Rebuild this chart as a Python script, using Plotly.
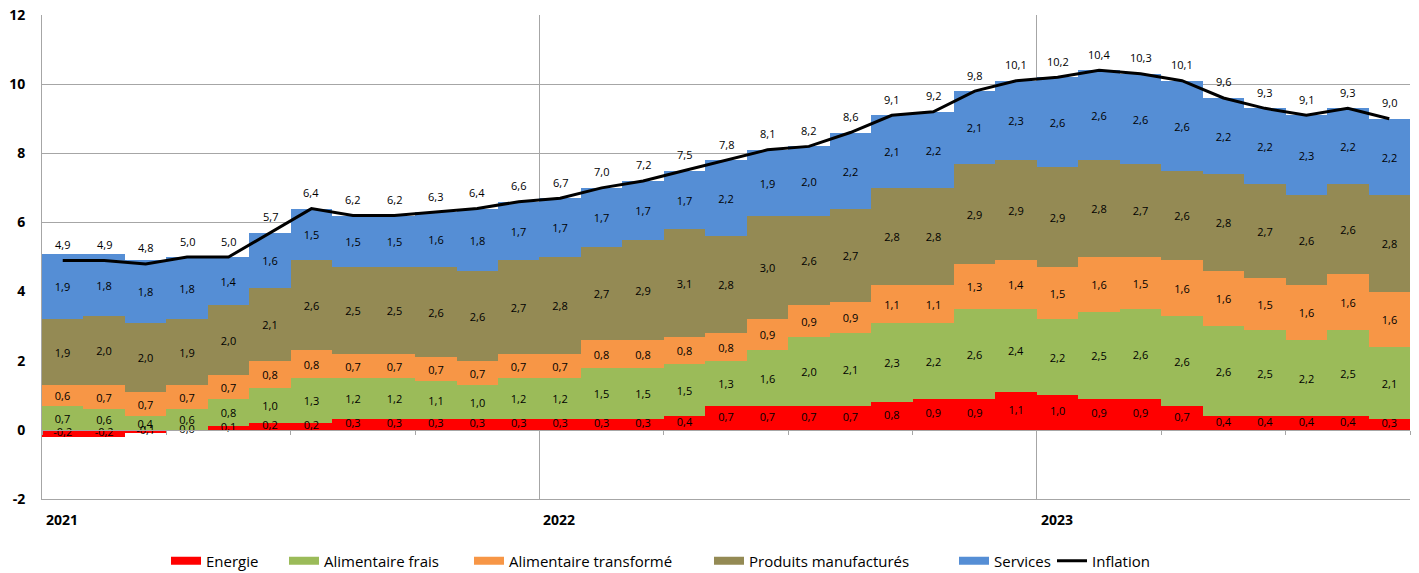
import plotly.graph_objects as go
import numpy as np

months = ["2021-01","2021-02","2021-03","2021-04","2021-05","2021-06","2021-07","2021-08","2021-09","2021-10","2021-11","2021-12",
          "2022-01","2022-02","2022-03","2022-04","2022-05","2022-06","2022-07","2022-08","2022-09","2022-10","2022-11","2022-12",
          "2023-01","2023-02","2023-03","2023-04","2023-05","2023-06","2023-07","2023-08","2023-09"]

energie = [-0.2,-0.2,-0.1,0.0,0.1,0.2,0.2,0.3,0.3,0.3,0.3,0.3,
           0.3,0.3,0.3,0.4,0.7,0.7,0.7,0.7,0.8,0.9,0.9,1.1,
           1.0,0.9,0.9,0.7,0.4,0.4,0.4,0.4,0.3]
alim_frais = [0.7,0.6,0.4,0.6,0.8,1.0,1.3,1.2,1.2,1.1,1.0,1.2,
              1.2,1.5,1.5,1.5,1.3,1.6,2.0,2.1,2.3,2.2,2.6,2.4,
              2.2,2.5,2.6,2.6,2.6,2.5,2.2,2.5,2.1]
alim_transf = [0.6,0.7,0.7,0.7,0.7,0.8,0.8,0.7,0.7,0.7,0.7,0.7,
               0.7,0.8,0.8,0.8,0.8,0.9,0.9,0.9,1.1,1.1,1.3,1.4,
               1.5,1.6,1.5,1.6,1.6,1.5,1.6,1.6,1.6]
manufactures = [1.9,2.0,2.0,1.9,2.0,2.1,2.6,2.5,2.5,2.6,2.6,2.7,
                2.8,2.7,2.9,3.1,2.8,3.0,2.6,2.7,2.8,2.8,2.9,2.9,
                2.9,2.8,2.7,2.6,2.8,2.7,2.6,2.6,2.8]
services = [1.9,1.8,1.8,1.8,1.4,1.6,1.5,1.5,1.5,1.6,1.8,1.7,
            1.7,1.7,1.7,1.7,2.2,1.9,2.0,2.2,2.1,2.2,2.1,2.3,
            2.6,2.6,2.6,2.6,2.2,2.2,2.3,2.2,2.2]
inflation = [4.9,4.9,4.8,5.0,5.0,5.7,6.4,6.2,6.2,6.3,6.4,6.6,
             6.7,7.0,7.2,7.5,7.8,8.1,8.2,8.6,9.1,9.2,9.8,10.1,
             10.2,10.4,10.3,10.1,9.6,9.3,9.1,9.3,9.0]
year_labels = ["2021", "2022", "2023"]

n = len(months)
x = np.arange(n) + 0.5
year_pos = [0, 12, 24]

FONT = "Open Sans"
LBL = 11
W, H = 1419, 573
series = [
    ("Energie", energie, "#FF0000"),
    ("Alimentaire frais", alim_frais, "#9BBB59"),
    ("Alimentaire transformé", alim_transf, "#F79646"),
    ("Produits manufacturés", manufactures, "#948A54"),
    ("Services", services, "#558ED5"),
]
# legend item left edges (px)
legend_left = [172, 290, 475, 715, 960, 1058]

def fmt(v):
    return f"{v:.1f}".replace(".", ",")

fig = go.Figure()
for name, vals, col in series:
    is_en = name == "Energie"
    fig.add_trace(go.Bar(
        x=x, y=vals, name=name, width=1.0, showlegend=False,
        marker=dict(color=col, line=dict(width=0)),
        texttemplate=None if is_en else "%{y:.1f}",
        textposition="none" if is_en else "inside", insidetextanchor="middle",
        textangle=0, constraintext="none",
        textfont=dict(family=FONT, size=LBL, color="black"),
    ))

# Energie labels (also shown for zero-height bars)
fig.add_trace(go.Scatter(
    x=x, y=[v / 2 for v in energie], mode="text", showlegend=False,
    text=[fmt(v) for v in energie], textposition="middle center",
    textfont=dict(family=FONT, size=LBL, color="black"), cliponaxis=False,
))

fig.add_trace(go.Scatter(
    x=x, y=inflation, name="Inflation", mode="lines", showlegend=False,
    line=dict(color="black", width=3), xaxis="x2",
))

for xi, v in zip(x, inflation):
    fig.add_annotation(x=xi, y=v, xref="x", yref="y", text=fmt(v), showarrow=False,
                       yanchor="middle", yshift=16,
                       font=dict(family=FONT, size=LBL, color="black"))

# legend entries, each in its own legend so it can be placed like the reference
legend_layouts = {}
entries = [(name, col, 8) for name, _, col in series] + [("Inflation", "black", 3)]
for i, ((name, col, lw), left) in enumerate(zip(entries, legend_left)):
    lg = "legend" if i == 0 else f"legend{i + 1}"
    fig.add_trace(go.Scatter(x=[None], y=[None], mode="lines", name=name, legend=lg,
                             line=dict(color=col, width=lw)))
    legend_layouts[lg] = dict(orientation="h", xref="container", yref="container",
                              x=(left - 6) / W, xanchor="left", y=1 - 561 / H, yanchor="middle",
                              font=dict(family=FONT, size=15), itemwidth=30,
                              bgcolor="rgba(0,0,0,0)")

for xp, lab in zip(year_pos, year_labels):
    fig.add_annotation(x=xp, y=0, xref="x", yref="paper", text=f"<b>{lab}</b>",
                       showarrow=False, xanchor="left", yanchor="top", xshift=2, yshift=-9,
                       font=dict(family=FONT, size=14, color="black"))

fig.update_layout(
    width=W, height=H,
    margin=dict(l=42, r=9, t=15, b=74, autoexpand=False),
    barmode="relative", bargap=0,
    separators=", ",
    plot_bgcolor="white", paper_bgcolor="white",
    font=dict(family=FONT, size=14, color="black"),
    uniformtext=dict(minsize=LBL, mode="show"),
    xaxis=dict(range=[0, n], tickvals=year_pos, showticklabels=False, showgrid=True,
               gridcolor="#a6a6a6", gridwidth=1, zeroline=False, automargin=False,
               showline=True, linecolor="#a6a6a6", linewidth=1, ticks=""),
    xaxis2=dict(range=[0, n], overlaying="x", anchor="free", position=2/14,
                tickvals=list(range(0, n + 1, 3)), showticklabels=False, showgrid=False,
                zeroline=False, showline=True, linecolor="#a6a6a6", linewidth=1, automargin=False,
                ticks="outside", ticklen=4, tickcolor="#a6a6a6", side="bottom"),
    yaxis=dict(range=[-2, 12], tickvals=list(range(-2, 13, 2)),
               ticktext=[f"<b>{v}</b>" for v in range(-2, 13, 2)],
               showgrid=True, gridcolor="#a6a6a6", gridwidth=1, zeroline=False, automargin=False,
               showline=True, linecolor="#a6a6a6", linewidth=1, ticks="",
               tickfont=dict(family=FONT, size=14, color="black"), ticklabelstandoff=13),
    showlegend=True,
    **legend_layouts,
)

fig.write_html("out.html", config={"displayModeBar": False},
               post_script="document.body.style.margin='0';")
